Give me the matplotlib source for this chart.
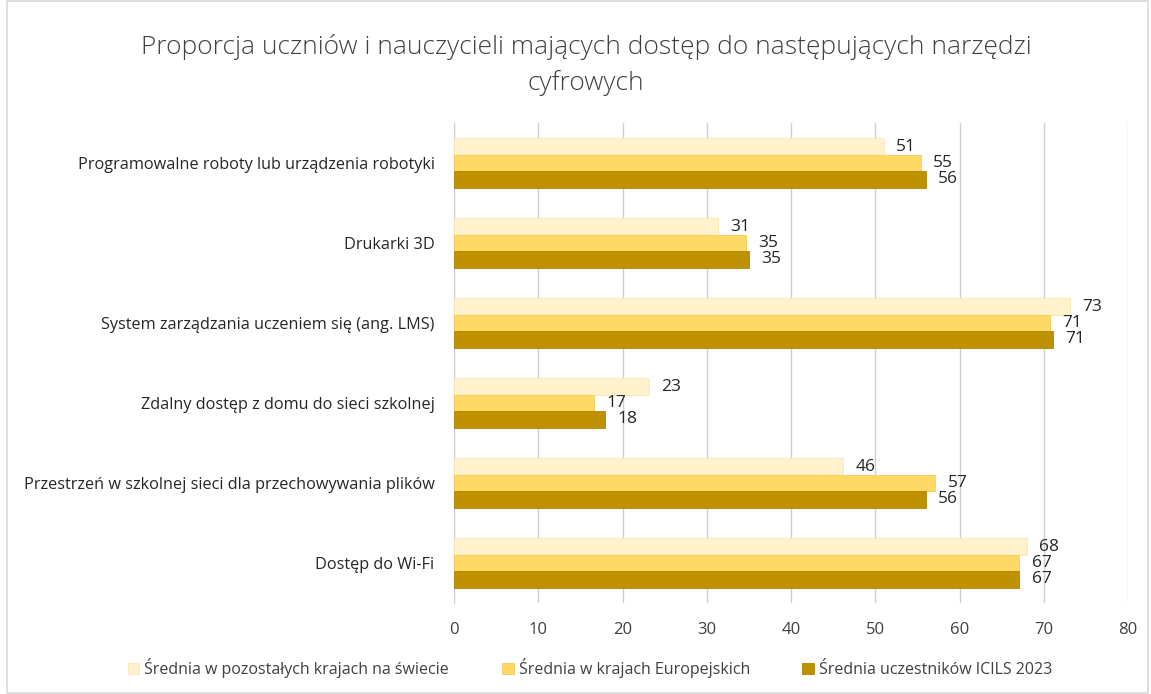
import numpy as np
import matplotlib
matplotlib.use("Agg")
import matplotlib.pyplot as plt
from matplotlib.patches import Rectangle

plt.rcParams["font.family"] = ["Open Sans", "DejaVu Sans"]

categories = [
    "Programowalne roboty lub urządzenia robotyki",
    "Drukarki 3D",
    "System zarządzania uczeniem się (ang. LMS)",
    "Zdalny dostęp z domu do sieci szkolnej",
    "Przestrzeń w szkolnej sieci dla przechowywania plików",
    "Dostęp do Wi-Fi",
]
series_names = [
    "Średnia w pozostałych krajach na świecie",
    "Średnia w krajach Europejskich",
    "Średnia uczestników ICILS 2023",
]
world = [51.0, 31.3, 73.1, 23.1, 46.2, 68.0]
europe = [55.4, 34.6, 70.7, 16.6, 57.1, 67.1]
icils = [56.0, 35.0, 71.1, 17.9, 56.0, 67.1]
colors = ["#FFF2CC", "#FFD966", "#BF9000"]
edges = ["#FBE7B0", "#F5CC55", "#B08500"]

fig = plt.figure(figsize=(11.51, 6.94), dpi=100)
ax = fig.add_axes([454 / 1151, 1 - 603 / 694, (1128 - 454) / 1151, (603 - 123) / 694])

y = np.arange(len(categories))
h = 0.205
for k, (vals, name) in enumerate(zip([world, europe, icils], series_names)):
    bars = ax.barh(y + (k - 1) * h, vals, height=h, color=colors[k],
                   edgecolor=edges[k], linewidth=0.6, label=name, zorder=3)
    ax.bar_label(bars, labels=[f"{round(v):d}" for v in vals], padding=9,
                 fontsize=12.5, color="#262626")

ax.set_xlim(0, 80)
ax.set_ylim(len(categories) - 0.5, -0.5)
ax.set_xticks(np.arange(0, 81, 10))
ax.set_yticks(y)
ax.set_yticklabels(categories, fontsize=11.7, color="#262626")
ax.tick_params(axis="x", labelsize=12, colors="#404040", length=0, pad=14)
ax.tick_params(axis="y", length=0, pad=14)
ax.grid(axis="x", color="#D0D0D0", linewidth=1, zorder=0)
for s in ["top", "right", "bottom"]:
    ax.spines[s].set_visible(False)
ax.spines["left"].set_color("#D0D0D0")

fig.text(586 / 1151, 1 - 47 / 694, "Proporcja uczniów i nauczycieli mających dostęp do następujących narzędzi",
         ha="center", va="center", fontsize=19, color="#404040", fontweight="light")
fig.text(586 / 1151, 1 - 83 / 694, "cyfrowych",
         ha="center", va="center", fontsize=19, color="#404040", fontweight="light")

fig.legend(loc="center", bbox_to_anchor=(590 / 1151, 1 - 668 / 694), ncol=3, frameon=False,
           fontsize=11.5, handlelength=0.75, handleheight=0.75, handletextpad=0.3,
           columnspacing=3.3, labelcolor="#404040")

fig.patches.append(Rectangle((7 / 1151, 0.002), 1 - 10 / 1151, 0.996, transform=fig.transFigure,
                             fill=False, edgecolor="#D9D9D9", linewidth=1.2))

fig.savefig("out.png", dpi=100)
